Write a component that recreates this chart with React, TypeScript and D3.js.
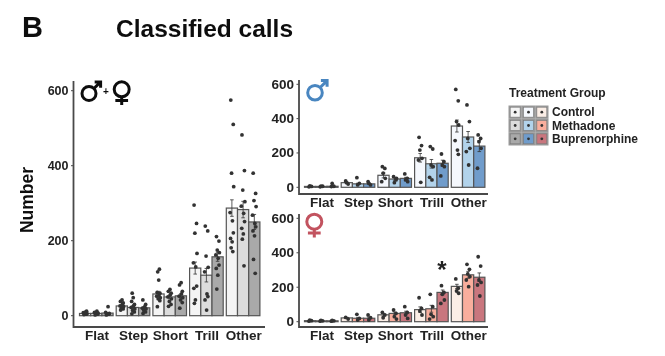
import React from "react";
import * as d3 from "d3";

const categories = ["Flat", "Step", "Short", "Trill", "Other"];
const treatments = ["Control", "Methadone", "Buprenorphine"];
const yTicks = [0, 200, 400, 600];

const grayFill = ["#f4f4f4", "#dcdcdc", "#a9a9a9"];
const blueFill = ["#f5f8fd", "#b2d3eb", "#6f9ccb"];
const redFill = ["#fbeee6", "#f9ae9d", "#c9767e"];

const allMeans = [[6, 6, 7], [26, 22, 21], [58, 50, 53], [127, 108, 157], [287, 283, 250]];
const allErrors = [[1, 1, 1.5], [3, 4, 3], [7, 5, 5], [16, 18, 12], [22, 22, 20]];
const allDots = [
  [[3, 4, 5, 6, 8, 10, 12], [2, 4, 5, 7, 9, 12], [2, 4, 5, 6, 9, 24]],
  [[15, 18, 20, 24, 26, 30, 34, 38, 42], [5, 10, 14, 18, 22, 26, 30, 38, 48, 60], [6, 10, 14, 18, 20, 24, 30, 42]],
  [[24, 40, 45, 48, 52, 55, 60, 62, 95, 117, 124], [25, 30, 38, 45, 50, 55, 60, 65, 70], [20, 35, 42, 48, 52, 58, 65, 82, 88]],
  [[295, 246, 220, 166, 141, 130, 79, 73, 42, 33], [239, 226, 159, 129, 117, 58, 51, 42, 15], [211, 199, 175, 168, 162, 153, 135, 126, 108, 71]],
  [[575, 510, 380, 344, 275, 253, 221, 206, 197, 181, 171], [482, 387, 335, 304, 292, 273, 251, 233, 218, 204, 133], [380, 326, 307, 291, 268, 246, 237, 226, 213, 150, 113]],
];

const maleMeans = [[5, 5, 6], [27, 20, 20], [70, 48, 52], [172, 137, 140], [357, 293, 240]];
const maleErrors = [[1, 1, 1.5], [4, 4, 4], [15, 7, 6], [25, 25, 18], [35, 32, 32]];
const maleDots = [
  [[3, 5, 8], [3, 6, 7], [4, 6, 22]],
  [[37, 19, 27], [56, 23, 14], [33, 14, 23]],
  [[120, 110, 82, 52, 33], [62, 43, 27, 52], [78, 52, 43, 33]],
  [[291, 243, 217, 169, 159, 29], [237, 223, 130, 120, 58, 43], [194, 149, 130, 120, 66]],
  [[570, 504, 383, 363, 272, 217, 192], [480, 383, 285, 227, 208, 130], [305, 285, 266, 227, 111]],
];

const femaleMeans = [[6, 5, 5], [22, 20, 20], [40, 48, 52], [70, 75, 170], [205, 272, 258]];
const femaleErrors = [[1, 1, 1], [3, 5, 5], [7, 8, 9], [16, 20, 14], [12, 20, 25]];
const femaleDots = [
  [[3, 6, 9], [3, 5, 8], [3, 5, 7]],
  [[25, 15], [43, 19, 10], [39, 23, 10]],
  [[54, 39, 23], [68, 48, 29, 15], [87, 54, 39, 19]],
  [[139, 77, 62, 39], [159, 87, 43, 29, 15], [209, 170, 159, 126, 106]],
  [[248, 194, 178, 165], [333, 304, 277, 261, 242, 203], [377, 323, 242, 228, 213, 149]],
];

const jitterPattern = [-0.1, 0.12, -0.03, 0.16, -0.16, 0.05, 0.13, -0.12, 0.02, -0.07, 0.08];
const FONT = "'Liberation Sans', Arial, sans-serif";
const INK = "#222";

type PanelProps = {
  left: number; right: number; barsLeft: number; zeroY: number; topY: number; axisY: number; axisTop: number;
  tickSize: number; means: number[][]; errors: number[][]; dots: number[][][]; fills: string[];
};

function Panel({ left, right, barsLeft, zeroY, topY, axisY, axisTop, tickSize, means, errors, dots, fills }: PanelProps) {
  const y = d3.scaleLinear().domain([0, 600]).range([zeroY, topY]);
  const band = 36.7;
  const x = d3.scaleBand<string>().domain(categories).range([barsLeft, barsLeft + band * 5]).paddingInner(0).paddingOuter(0);
  const inner = d3.scaleBand<number>().domain([0, 1, 2]).range([0, 33.6]);
  const bw = inner.bandwidth();
  return (
    <g>
      {categories.map((c, ci) => (
        <g key={c} transform={`translate(${x(c)},0)`}>
          {[0, 1, 2].map((t) => {
            const bx = inner(t)!;
            const cx = bx + bw / 2;
            const m = means[ci][t];
            const e = errors[ci][t];
            return (
              <g key={t}>
                <rect x={bx} y={y(m)} width={bw} height={zeroY - y(m)} fill={fills[t]} stroke="#555" strokeWidth={1.2} />
                <path d={`M${cx},${y(m - e)}V${y(m + e)}M${cx - 1.8},${y(m + e)}h3.6M${cx - 1.8},${y(m - e)}h3.6`} stroke="#333" strokeWidth={0.8} fill="none" />
                {dots[ci][t].map((v, i) => (
                  <circle key={i} cx={cx + jitterPattern[i % jitterPattern.length] * bw} cy={y(v)} r={1.9} fill="#333" />
                ))}
              </g>
            );
          })}
          <text x={17.5} y={axisY + 13} textAnchor="middle" fontSize={13.5} fontWeight="bold" fontFamily={FONT} fill={INK}>{c}</text>
        </g>
      ))}
      <path d={`M${left},${axisTop}V${axisY}H${right}`} fill="none" stroke="#4a4a4a" strokeWidth={1.8} />
      {yTicks.map((t) => (
        <g key={t}>
          <line x1={left - 2.5} x2={left} y1={y(t)} y2={y(t)} stroke="#4a4a4a" strokeWidth={1} />
          <text x={left - 5} y={y(t) + 4.5} textAnchor="end" fontSize={tickSize} fontWeight="bold" fontFamily={FONT} fill={INK}>{t}</text>
        </g>
      ))}
    </g>
  );
}

function Male({ cx, cy, r, color, w }: { cx: number; cy: number; r: number; color: string; w: number }) {
  const d = r * 0.707;
  const tx = cx + d + r * 0.95;
  const ty = cy - d - r * 0.95;
  return (
    <g fill="none" stroke={color} strokeWidth={w}>
      <circle cx={cx} cy={cy} r={r} />
      <path d={`M${cx + d},${cy - d}L${tx},${ty}M${tx - r * 0.85},${ty}H${tx}V${ty + r * 0.85}`} />
    </g>
  );
}

function Female({ cx, cy, r, color, w }: { cx: number; cy: number; r: number; color: string; w: number }) {
  return (
    <g fill="none" stroke={color} strokeWidth={w}>
      <circle cx={cx} cy={cy} r={r} />
      <path d={`M${cx},${cy + r}V${cy + r * 2.1}M${cx - r * 0.85},${cy + r * 1.5}H${cx + r * 0.85}`} />
    </g>
  );
}

export default function App() {
  const keyCols = [grayFill, blueFill, redFill];
  const keyX = d3.scaleBand<number>().domain([0, 1, 2]).range([508.5, 548.5]);
  const keyY = d3.scaleBand<number>().domain([0, 1, 2]).range([105.5, 145.5]);
  return (
    <svg width={665} height={356} style={{ position: "fixed", left: 0, top: 0, background: "#fff" }}>
      <defs>
        <filter id="soft" x="0" y="0" width="100%" height="100%">
          <feGaussianBlur stdDeviation="0.55" />
        </filter>
      </defs>
      <g filter="url(#soft)">
        <text x={22} y={37} fontSize={29} fontWeight="bold" fontFamily={FONT} fill="#111">B</text>
        <text x={116} y={37} fontSize={24.5} fontWeight="bold" fontFamily={FONT} fill="#111">Classified calls</text>
        <text transform="translate(33,200) rotate(-90)" textAnchor="middle" fontSize={17.5} fontWeight="bold" fontFamily={FONT} fill="#111">Number</text>

        <Panel left={73.5} right={265} barsLeft={79.5} zeroY={315.7} topY={90.7} axisY={327} axisTop={81} tickSize={12.5} means={allMeans} errors={allErrors} dots={allDots} fills={grayFill} />
        <Panel left={299} right={488} barsLeft={304.5} zeroY={187.3} topY={84.3} axisY={194} axisTop={80} tickSize={13.5} means={maleMeans} errors={maleErrors} dots={maleDots} fills={blueFill} />
        <Panel left={299} right={488} barsLeft={304.5} zeroY={321.7} topY={218.3} axisY={327} axisTop={214} tickSize={13.5} means={femaleMeans} errors={femaleErrors} dots={femaleDots} fills={redFill} />

        <Male cx={89} cy={93.5} r={7} color="#111" w={3} />
        <text x={106} y={95} textAnchor="middle" fontSize={10} fontWeight="bold" fontFamily={FONT} fill="#111">+</text>
        <Female cx={121.7} cy={89.3} r={7.5} color="#111" w={3} />
        <Male cx={315} cy={92.7} r={7.3} color="#4a86c0" w={3} />
        <Female cx={314.3} cy={221.7} r={7.5} color="#c2525e" w={3} />
        <text x={442} y={278} textAnchor="middle" fontSize={24} fontWeight="bold" fontFamily={FONT} fill="#222">*</text>

        <text x={509} y={97} fontSize={12} fontWeight="bold" fontFamily={FONT} fill={INK}>Treatment Group</text>
        {keyCols.map((col, c) =>
          col.map((f, r) => (
            <g key={`${c}-${r}`}>
              <rect x={keyX(c)} y={keyY(r)} width={keyX.bandwidth()} height={keyY.bandwidth()} fill="#999" />
              <rect x={keyX(c)! + 1.7} y={keyY(r)! + 1.7} width={keyX.bandwidth() - 3.4} height={keyY.bandwidth() - 3.4} fill={f} stroke="#777" strokeWidth={0.6} />
              <circle cx={keyX(c)! + keyX.bandwidth() / 2} cy={keyY(r)! + keyY.bandwidth() / 2} r={1.4} fill="#333" />
            </g>
          ))
        )}
        {treatments.map((t, r) => (
          <text key={t} x={552} y={keyY(r)! + keyY.bandwidth() / 2 + 4} fontSize={12} fontWeight="bold" fontFamily={FONT} fill={INK}>{t}</text>
        ))}
      </g>
    </svg>
  );
}
